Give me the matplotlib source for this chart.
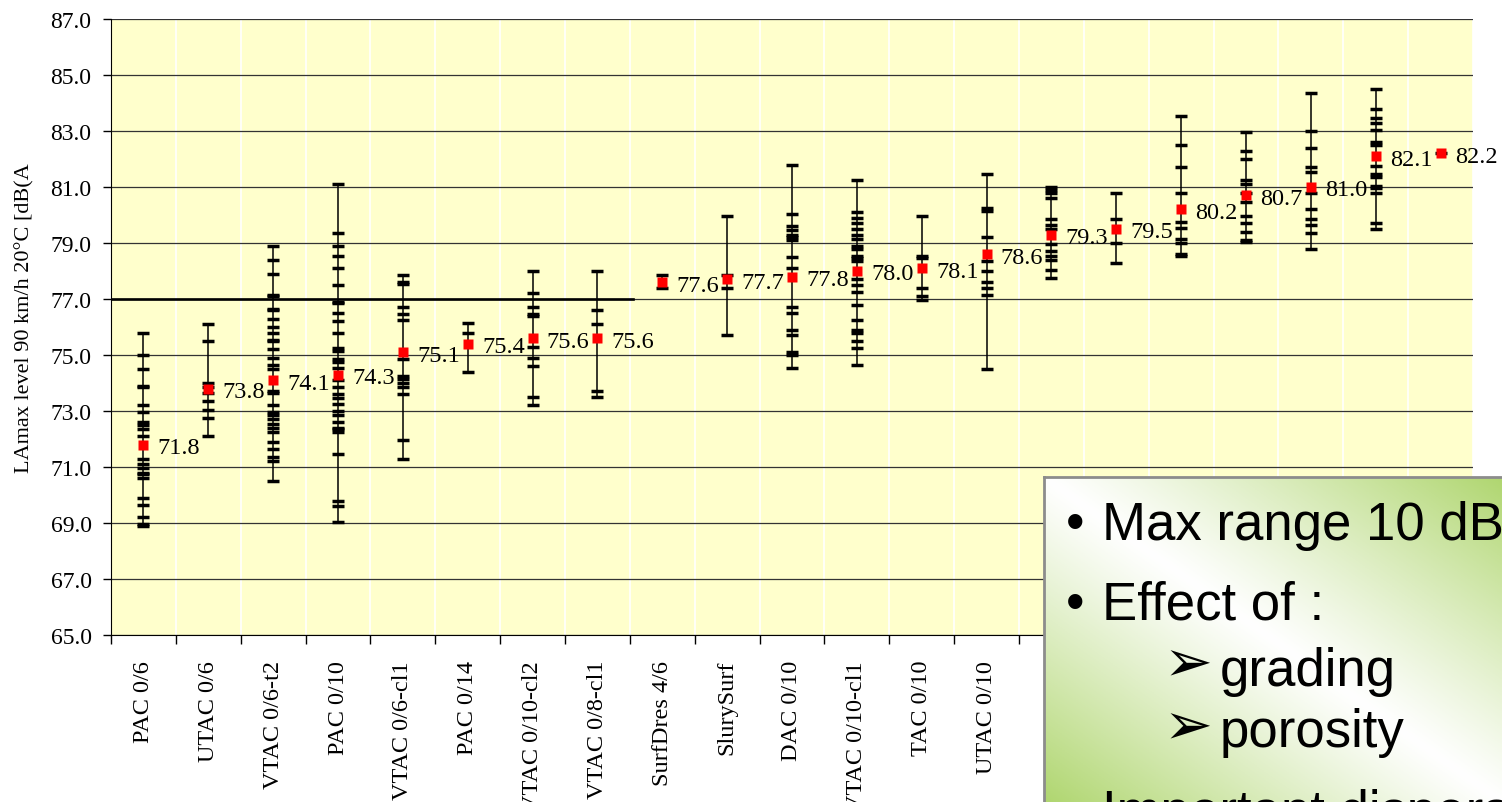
import matplotlib
matplotlib.use('Agg')
import matplotlib.pyplot as plt
import numpy as np

# categories (the last 7 labels are hidden behind the text box in the reference)
categories = ['PAC 0/6', 'UTAC 0/6', 'VTAC 0/6-t2', 'PAC 0/10', 'VTAC 0/6-cl1', 'PAC 0/14',
              'VTAC 0/10-cl2', 'VTAC 0/8-cl1', 'SurfDres 4/6', 'SlurySurf', 'DAC 0/10',
              'VTAC 0/10-cl1', 'TAC 0/10', 'UTAC 0/10', '', '', '', '', '', '', '']

means = [71.8, 73.8, 74.1, 74.3, 75.1, 75.4, 75.6, 75.6, 77.6, 77.7, 77.8,
         78.0, 78.1, 78.6, 79.3, 79.5, 80.2, 80.7, 81.0, 82.1, 82.2]

# individual site values
runs = [
    [75.8, 75.0, 74.5, 73.9, 73.85, 73.2, 72.95, 72.6, 72.5, 72.35, 72.1, 71.3, 71.1,
     70.95, 70.8, 70.75, 70.6, 69.9, 69.65, 69.2, 68.95, 68.9],
    [76.1, 75.5, 74.0, 73.85, 73.65, 73.35, 73.05, 72.75, 72.1],
    [78.9, 78.4, 77.9, 77.15, 77.1, 76.65, 76.6, 76.3, 76.0, 75.8, 75.55, 75.5, 75.2, 74.9,
     74.65, 74.5, 73.7, 73.65, 73.2, 72.95, 72.85, 72.7, 72.55, 72.4, 72.25, 71.9, 71.65,
     71.35, 71.2, 70.5],
    [81.1, 79.35, 78.9, 78.55, 78.1, 77.5, 76.9, 76.85, 76.5, 76.2, 75.8, 75.25, 75.15,
     74.85, 74.75, 74.55, 74.1, 73.85, 73.6, 73.45, 73.25, 73.0, 72.85, 72.6, 72.4, 72.35,
     72.25, 71.45, 69.8, 69.6, 69.05],
    [77.85, 77.6, 77.55, 76.7, 76.45, 76.25, 74.85, 74.25, 74.15, 74.0, 73.85, 73.6, 71.95, 71.3],
    [76.15, 75.8, 74.4],
    [78.0, 77.2, 76.7, 76.45, 76.4, 75.3, 74.9, 74.6, 73.5, 73.2],
    [78.0, 76.6, 76.1, 73.7, 73.5],
    [77.85, 77.4],
    [79.95, 77.85, 77.4, 75.7],
    [81.8, 80.05, 79.6, 79.45, 79.3, 79.2, 79.1, 78.5, 78.1, 76.7, 76.5, 75.9, 75.7, 75.1,
     75.0, 74.55],
    [81.25, 80.1, 79.9, 79.7, 79.5, 79.3, 79.15, 78.9, 78.8, 78.55, 78.45, 78.35, 77.7, 77.5,
     77.25, 76.8, 76.25, 75.9, 75.8, 75.5, 75.25, 74.65],
    [79.95, 78.55, 78.45, 77.4, 77.1, 76.95],
    [81.45, 80.25, 80.15, 79.2, 78.35, 78.0, 77.6, 77.4, 77.15, 74.5],
    [81.0, 80.9, 80.8, 80.6, 79.85, 79.65, 79.5, 78.95, 78.7, 78.55, 78.4, 78.05, 77.75],
    [80.8, 79.85, 79.0, 78.3],
    [83.55, 82.5, 81.7, 80.8, 79.75, 79.55, 79.15, 79.0, 78.6, 78.55],
    [82.95, 82.3, 82.0, 81.25, 81.1, 80.8, 80.45, 79.95, 79.7, 79.4, 79.1, 79.05],
    [84.35, 83.0, 82.4, 81.7, 81.55, 80.8, 80.2, 79.85, 79.65, 79.35, 78.8],
    [84.5, 83.8, 83.45, 83.3, 83.05, 82.6, 82.5, 81.75, 81.45, 81.35, 81.05, 80.95, 80.8,
     79.7, 79.5],
    [82.2],
]

threshold = 77.0
ylabel = 'LAmax level 90 km/h 20°C [dB(A'

plt.rcParams['font.family'] = ['Liberation Serif', 'DejaVu Serif']

W, H = 1502, 803
fig = plt.figure(figsize=(W / 100, H / 100), dpi=100)
ax = fig.add_axes([111 / W, 167 / H, 1362 / W, 616 / H])
ax.set_facecolor('#FFFFCC')

x = np.arange(len(categories))
ax.set_xlim(-0.5, len(categories) - 0.5)
ax.set_ylim(65, 87)
ax.set_yticks(np.arange(65, 87.1, 2))
ax.set_yticklabels([f'{v:.1f}' for v in np.arange(65, 87.1, 2)])
ax.yaxis.grid(True, color='#333333', lw=0.9)
ax.set_xticks(x)
ax.set_xticklabels(categories, rotation=90, va='top', ha='center')
ax.set_xticks(np.arange(-0.5, len(categories)), minor=True)
ax.xaxis.grid(True, which='minor', color='white', lw=1.2)
ax.set_axisbelow(True)
ax.tick_params(axis='y', direction='out', length=6, width=1, labelsize=17, pad=8)
ax.tick_params(axis='x', which='major', length=0, labelsize=17.5, pad=18)
ax.tick_params(axis='x', which='minor', direction='out', length=6.5, width=1)
ax.spines[['top', 'right']].set_visible(False)

for i, vals in enumerate(runs):
    lo = min(vals + [means[i]])
    hi = max(vals + [means[i]])
    ax.vlines(i, lo, hi, color='black', lw=1.1, zorder=3)
    ax.plot([i] * len(vals), vals, ls='none', marker='_', ms=8.5, mew=2.5,
            color='black', zorder=3)

ax.plot([-0.5, 7.55], [threshold, threshold], color='black', lw=1.9, zorder=4)
ax.plot(x, means, ls='none', marker='s', ms=6.5, color='#FF0000', mec='none', zorder=5)
for i, m in enumerate(means):
    ax.text(i + 0.22, m - 0.1, f'{m:.1f}', fontsize=17.5, ha='left', va='center', zorder=6)

fig.text(25 / W, (H - 318) / H, ylabel, rotation=90, ha='center', va='center', fontsize=16)

# overlaid text box from the slide
bx = fig.add_axes([1044 / W, 0, (W - 1044) / W, (H - 478) / H])
s, t = np.meshgrid(np.linspace(0, 1, 200), np.linspace(1, 0, 150))
f = np.clip(np.abs(s + t - 1), 0, 1) ** 1.1
green = np.array([0.69, 0.84, 0.44])
img = 1 - f[..., None] * (1 - green)
bx.imshow(img, extent=[0, 1, 0, 1], aspect='auto')
bx.set_xticks([])
bx.set_yticks([])
bx.set_xlim(0, 1)
bx.set_ylim(0, 1)
for side in ['right', 'bottom']:
    bx.spines[side].set_visible(False)
for side in ['left', 'top']:
    bx.spines[side].set_color('#8c8c8c')
    bx.spines[side].set_linewidth(2)

sans = ['Liberation Sans', 'DejaVu Sans']
bullets = [('Max range 10 dB', 540), ('Effect of :', 620), ('Important dispersion', 828)]
subs = [('grading', 686, 665), ('porosity', 747, 728)]
for txt, yb in bullets:
    fig.text(1066 / W, (H - yb) / H, '•', family=sans, fontsize=38, ha='left', va='baseline')
    fig.text(1102 / W, (H - yb) / H, txt, family=sans, fontsize=38, ha='left', va='baseline')
for txt, yb, ya in subs:
    fig.text(1164 / W, (H - ya) / H, '➢', family=['DejaVu Sans'], fontsize=42,
             ha='left', va='center')
    fig.text(1220 / W, (H - yb) / H, txt, family=sans, fontsize=38, ha='left', va='baseline')

fig.savefig('out.png', dpi=100)
